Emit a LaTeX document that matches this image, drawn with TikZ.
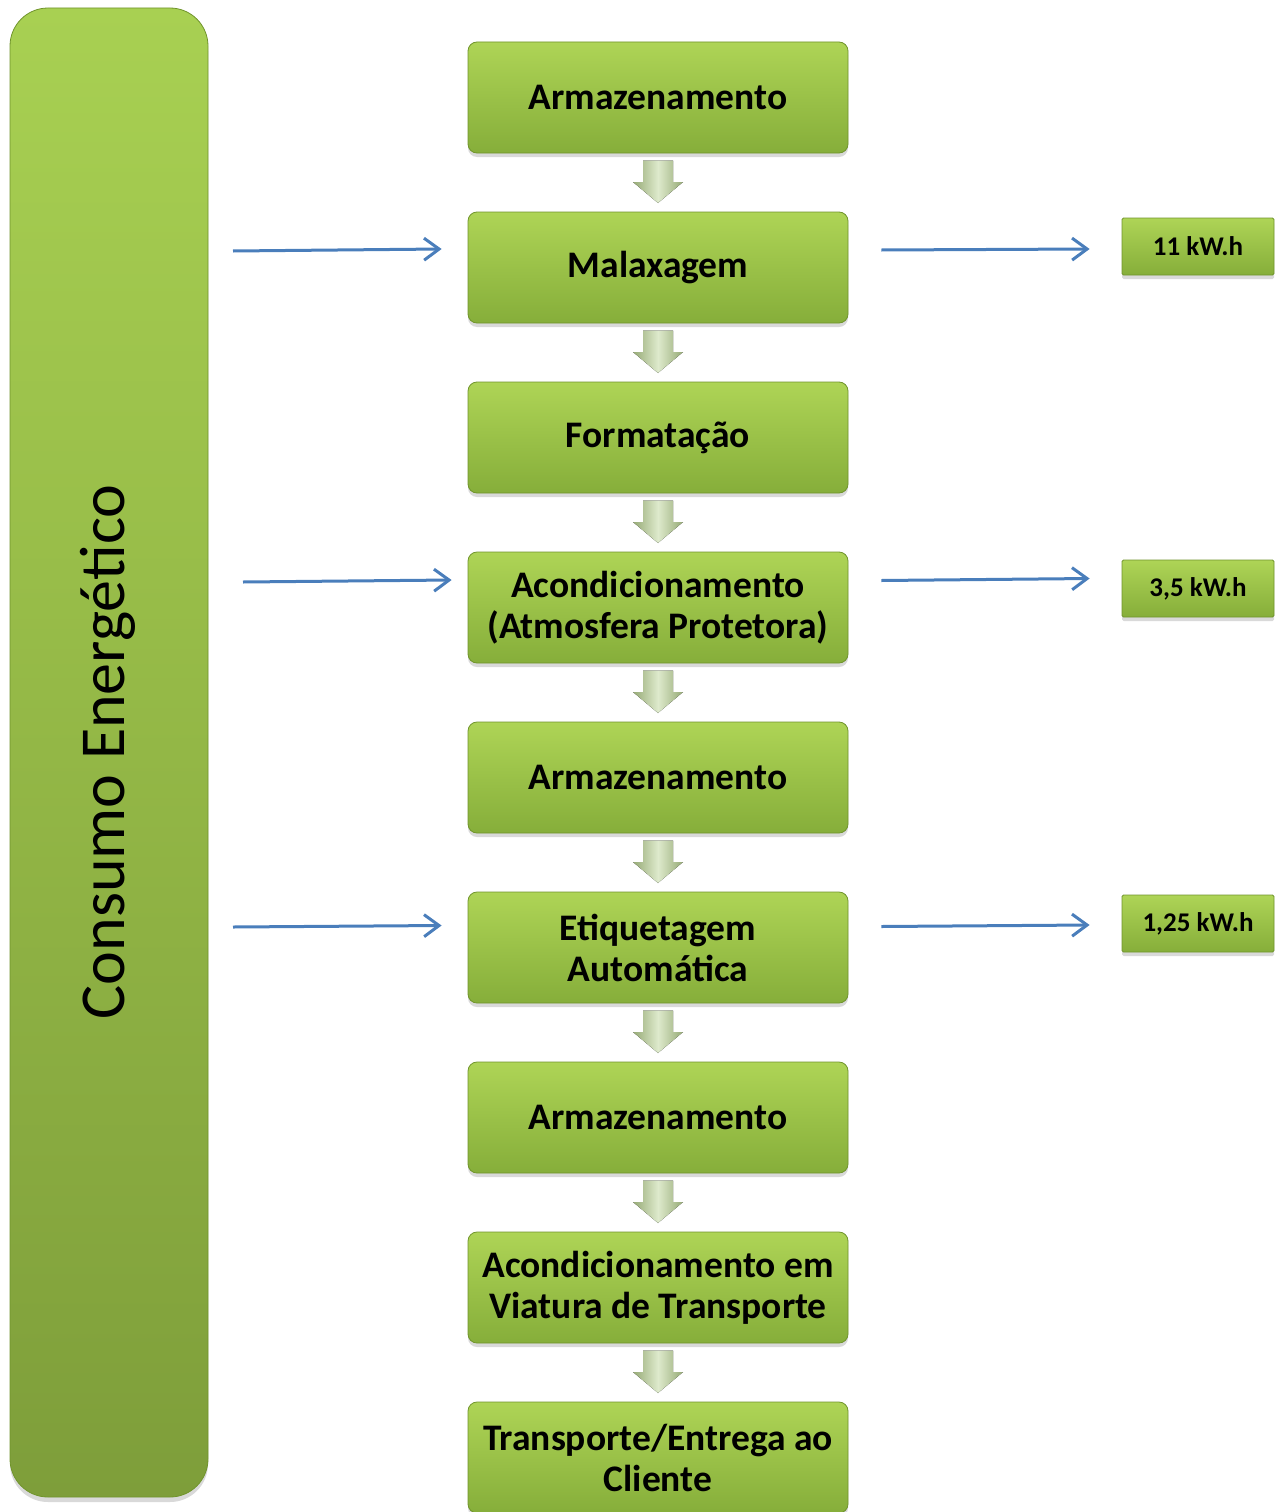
\documentclass[tikz,border=0pt]{standalone}
\usepackage{fontspec}
\setmainfont{Carlito}
\usetikzlibrary{arrows.meta,shadows,calc}

\definecolor{boxtop}{RGB}{174,212,86}
\definecolor{boxbot}{RGB}{134,174,58}
\definecolor{bartop}{RGB}{168,208,82}
\definecolor{barbot}{RGB}{126,158,58}
\definecolor{boxedge}{RGB}{112,148,44}
\definecolor{flowblue}{RGB}{74,126,187}
\definecolor{arrdark}{RGB}{150,170,118}
\definecolor{arrlight}{RGB}{222,234,204}

% down arrow between two consecutive steps
\newcommand\flowdown[2]{%
  \fill[left color=arrdark, right color=arrdark, middle color=arrlight,
        shift={($(#1.south)!0.5!(#2.north)$)}]
    (-15,-22) -- (15,-22) -- (15,-0.5) -- (25,-0.5) -- (0,20.5)
    -- (-25,-0.5) -- (-15,-0.5) -- cycle;}

\begin{document}
\begin{tikzpicture}[x=1pt,y=-1pt,
  stepbox/.style={rectangle, rounded corners=9pt, minimum width=380pt,
    minimum height=111pt, top color=boxtop, bottom color=boxbot,
    draw=boxedge, line width=0.8pt, inner sep=0pt, align=center,
    font=\fontsize{37.5}{41}\selectfont\bfseries,
    drop shadow={shadow xshift=0pt, shadow yshift=-4pt, opacity=0.3}},
  valbox/.style={rectangle, rounded corners=1.5pt, minimum width=152pt,
    minimum height=57pt, top color=boxtop, bottom color=boxbot,
    draw=boxedge, line width=0.8pt, inner sep=0pt,
    font=\fontsize{27}{30}\selectfont\bfseries,
    drop shadow={shadow xshift=0pt, shadow yshift=-4pt, opacity=0.3}},
  barbox/.style={rectangle, rounded corners=38pt, minimum width=198pt,
    minimum height=1489pt, top color=bartop, bottom color=barbot,
    draw=boxedge, line width=0.8pt, inner sep=0pt,
    drop shadow={shadow xshift=0pt, shadow yshift=-5pt, opacity=0.3}},
  flow/.style={draw=flowblue, line width=3pt,
    -{Straight Barb[length=15pt, width=22pt, line width=3pt]}}]

\useasboundingbox (0,0) rectangle (1275,1512);

% energy consumption bar
\node[barbox] (bar) at (109,752.5) {};
\node[rotate=90, font=\fontsize{64}{70}\selectfont] (bartext) at (108,752) {Consumo Energético};

% process steps
\node[stepbox] (s1) at (658,97.5)   {Armazenamento};
\node[stepbox] (s2) at (658,267.5)  {Malaxagem};
\node[stepbox] (s3) at (658,437.5)  {Formatação};
\node[stepbox] (s4) at (658,607.5)  {Acondicionamento\\(Atmosfera Protetora)};
\node[stepbox] (s5) at (658,777.5)  {Armazenamento};
\node[stepbox] (s6) at (658,947.5)  {Etiquetagem\\Automática};
\node[stepbox] (s7) at (658,1117.5) {Armazenamento};
\node[stepbox] (s8) at (658,1287.5) {Acondicionamento em\\Viatura de Transporte};
\node[stepbox] (s9) at (658,1457.5) {Transporte/Entrega ao\\Cliente};

\flowdown{s1}{s2}
\flowdown{s2}{s3}
\flowdown{s3}{s4}
\flowdown{s4}{s5}
\flowdown{s5}{s6}
\flowdown{s6}{s7}
\flowdown{s7}{s8}
\flowdown{s8}{s9}

% consumption values
\node[valbox] (v1) at (1198,246.5) {11 kW.h};
\node[valbox] (v2) at (1198,588.5) {3,5 kW.h};
\node[valbox] (v3) at (1198,923.5) {1,25 kW.h};

% energy input and output arrows
\coordinate (l1) at (233,251);
\coordinate (l4) at (243,582);
\coordinate (l6) at (233,927);

\draw[flow] (l1) -- ($(s2.west)+(-26,-18.5)$);
\draw[flow] ($(s2.east)+(33,-17.5)$) -- ($(v1.west)+(-32,2.5)$);
\draw[flow] (l4) -- ($(s4.west)+(-16,-27.5)$);
\draw[flow] ($(s4.east)+(33,-27)$) -- ($(v2.west)+(-32,-10)$);
\draw[flow] (l6) -- ($(s6.west)+(-26,-22)$);
\draw[flow] ($(s6.east)+(33,-21)$) -- ($(v3.west)+(-32,1.5)$);

\end{tikzpicture}
\end{document}
